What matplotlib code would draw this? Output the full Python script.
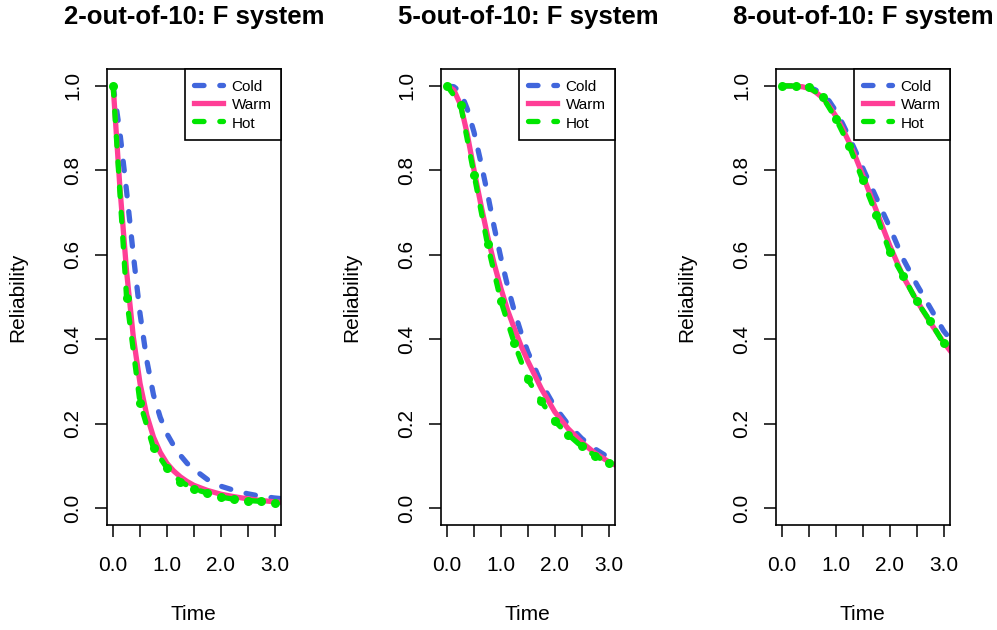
import matplotlib
matplotlib.use("Agg")
import matplotlib.pyplot as plt
from matplotlib.lines import Line2D

plt.rcParams['font.family'] = ['Liberation Sans', 'DejaVu Sans']

# ---------------- data ----------------
titles = ["2-out-of-10: F system", "5-out-of-10: F system", "8-out-of-10: F system"]
series_names = ["Cold", "Warm", "Hot"]

# time grid for the smooth curves (Cold, Warm)
t_smooth = [0, 0.125, 0.25, 0.375, 0.5, 0.625, 0.75, 0.875, 1.0, 1.125, 1.25, 1.375,
            1.5, 1.75, 2.0, 2.25, 2.5, 2.75, 3.0, 3.25]
# time grid for the Hot curve (points)
t_hot = [0, 0.25, 0.5, 0.75, 1.0, 1.25, 1.5, 1.75, 2.0, 2.25, 2.5, 2.75, 3.0]

cold_2 = [1.0, 0.89, 0.75, 0.60, 0.46, 0.35, 0.268, 0.215, 0.176, 0.148, 0.125, 0.106,
          0.092, 0.068, 0.052, 0.042, 0.034, 0.028, 0.024, 0.021]
warm_2 = [1.0, 0.76, 0.56, 0.405, 0.295, 0.22, 0.168, 0.132, 0.106, 0.088, 0.074, 0.063,
          0.054, 0.042, 0.033, 0.027, 0.022, 0.018, 0.015, 0.013]
hot_2 = [1.0, 0.497, 0.249, 0.142, 0.095, 0.063, 0.045, 0.036, 0.026, 0.021, 0.018, 0.016, 0.013]

cold_5 = [1.0, 0.998, 0.985, 0.945, 0.89, 0.82, 0.745, 0.665, 0.592, 0.525, 0.466, 0.415,
          0.37, 0.296, 0.24, 0.198, 0.165, 0.14, 0.12, 0.104]
warm_5 = [1.0, 0.99, 0.955, 0.885, 0.80, 0.72, 0.645, 0.578, 0.52, 0.468, 0.425, 0.384,
          0.348, 0.283, 0.228, 0.188, 0.156, 0.13, 0.11, 0.094]
hot_5 = [1.0, 0.955, 0.79, 0.625, 0.49, 0.39, 0.305, 0.253, 0.206, 0.174, 0.146, 0.124, 0.107]

cold_8 = [1.0, 1.0, 1.0, 0.999, 0.997, 0.99, 0.98, 0.964, 0.94, 0.91, 0.877, 0.842,
          0.805, 0.735, 0.665, 0.59, 0.53, 0.475, 0.42, 0.38]
warm_8 = [1.0, 1.0, 0.999, 0.998, 0.994, 0.985, 0.972, 0.952, 0.928, 0.898, 0.865, 0.828,
          0.788, 0.705, 0.622, 0.548, 0.492, 0.44, 0.393, 0.352]
hot_8 = [1.0, 1.0, 0.997, 0.974, 0.922, 0.857, 0.776, 0.695, 0.606, 0.55, 0.49, 0.443, 0.39]

cold_all = [cold_2, cold_5, cold_8]
warm_all = [warm_2, warm_5, warm_8]
hot_all = [hot_2, hot_5, hot_8]

x_ticks = [0, 0.5, 1.0, 1.5, 2.0, 2.5, 3.0]
x_ticklabels = ["0.0", "", "1.0", "", "2.0", "", "3.0"]
y_ticks = [0.0, 0.2, 0.4, 0.6, 0.8, 1.0]
y_ticklabels = ["0.0", "0.2", "0.4", "0.6", "0.8", "1.0"]

# ---------------- style ----------------
C_COLD = "#4166DC"
C_WARM = "#FF3E96"
C_HOT = "#00E600"
LW = 3.8
DASH = (0, (1.8, 3.0))

W, H = 997, 630
fig = plt.figure(figsize=(W / 100, H / 100), dpi=100)

lefts = [106.7, 440.7, 775.7]
box_w = 174.3
top_px, bot_px = 69, 525

for i in range(3):
    ax = fig.add_axes([lefts[i] / W, 1 - bot_px / H, box_w / W, (bot_px - top_px) / H])
    ax.plot(t_smooth, cold_all[i], color=C_COLD, lw=LW, linestyle=DASH,
            dash_capstyle='round', solid_capstyle='round')
    ax.plot(t_smooth, warm_all[i], color=C_WARM, lw=LW, solid_capstyle='round')
    ax.plot(t_hot, hot_all[i], color=C_HOT, lw=LW, linestyle=DASH,
            dash_capstyle='round', marker='o', markersize=6.5, markeredgewidth=0)
    ax.set_xlim(-0.12, 3.12)
    ax.set_ylim(-0.04, 1.04)
    ax.set_xticks(x_ticks)
    ax.set_xticklabels(x_ticklabels, fontsize=15)
    ax.set_yticks(y_ticks)
    ax.set_yticklabels(y_ticklabels, fontsize=15, rotation=90, va='center')
    ax.tick_params(axis='both', direction='out', length=8.5, width=1.1, color='black')
    ax.tick_params(axis='x', pad=14)
    ax.tick_params(axis='y', pad=9)
    for s in ax.spines.values():
        s.set_linewidth(1.2)
        s.set_color('black')

    handles = [Line2D([], [], color=C_COLD, lw=LW, linestyle=DASH, dash_capstyle='round'),
               Line2D([], [], color=C_WARM, lw=LW),
               Line2D([], [], color=C_HOT, lw=LW, linestyle=DASH, dash_capstyle='round')]
    leg = ax.legend(handles, series_names, loc='upper right', fontsize=11,
                    frameon=True, fancybox=False, edgecolor='black', framealpha=1,
                    borderaxespad=0, handlelength=1.9, handletextpad=0.55,
                    labelspacing=0.18, borderpad=0.62, handleheight=1.1)
    leg.get_frame().set_linewidth(1.2)

    cx = (lefts[i] + box_w / 2) / W
    fig.text(cx, 1 - 17 / H, titles[i], ha='center', va='center',
             fontsize=18.5, fontweight='bold')
    fig.text(cx, 1 - 615 / H, "Time", ha='center', va='center', fontsize=15)
    fig.text((lefts[i] - 89) / W, 1 - 297 / H, "Reliability", ha='center', va='center',
             rotation=90, fontsize=15)

fig.savefig("out.png", dpi=100)
